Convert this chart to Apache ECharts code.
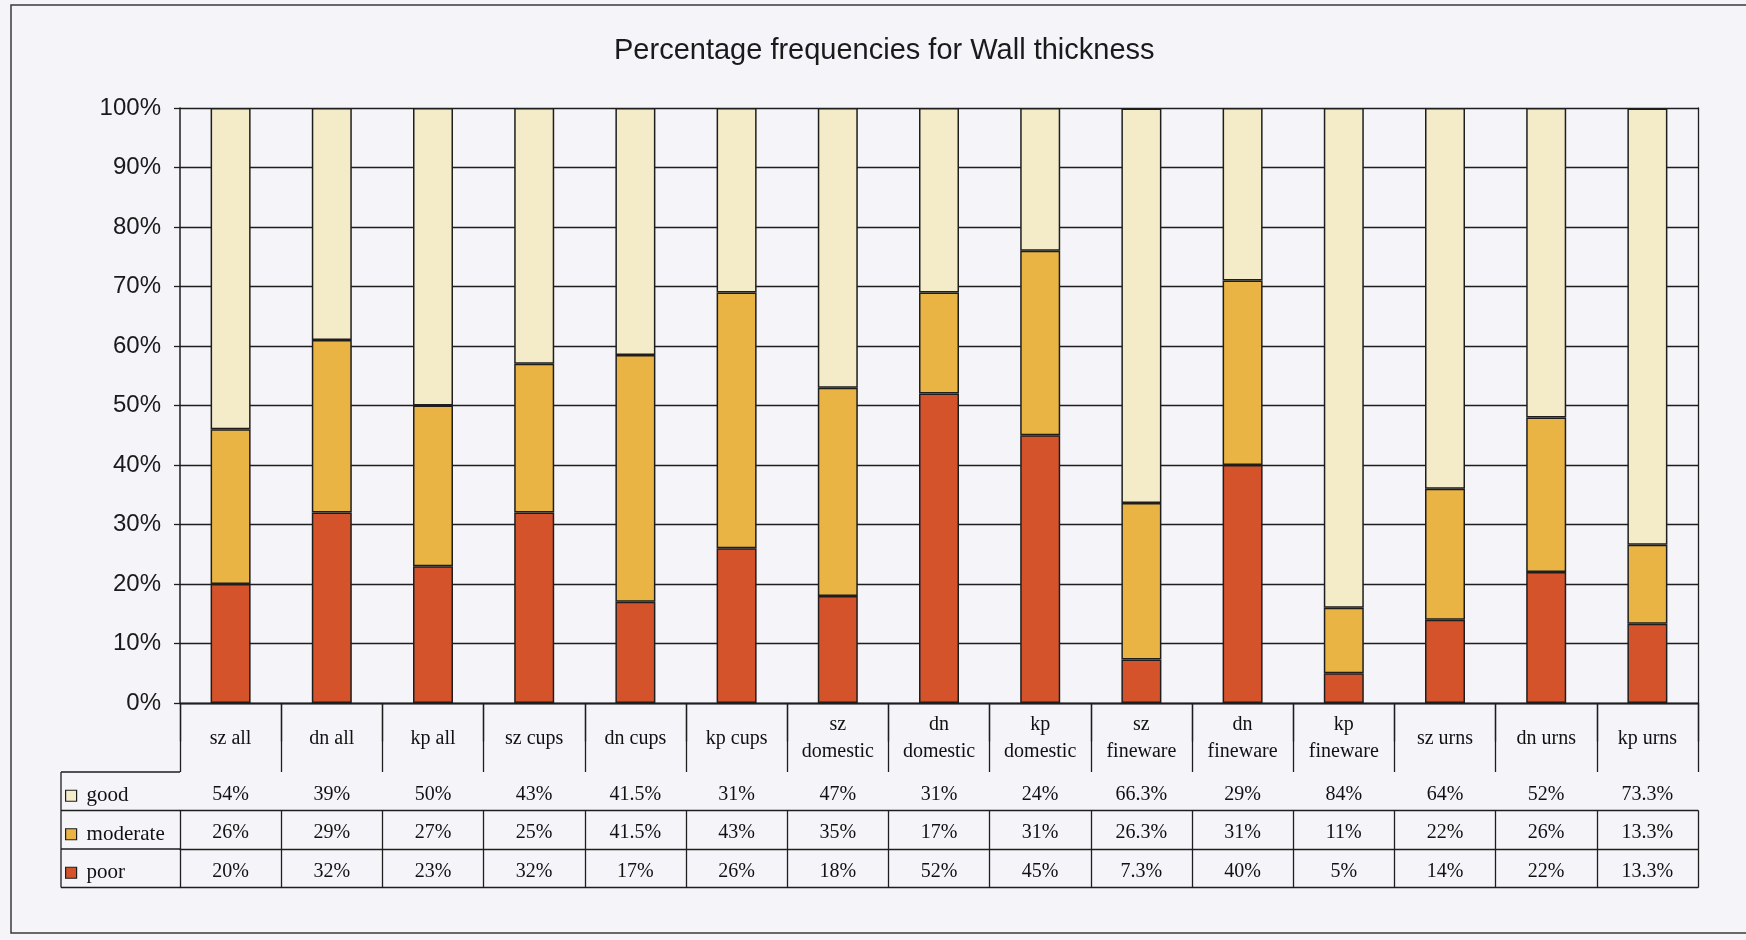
<!DOCTYPE html>
<html>
<head>
<meta charset="utf-8">
<title>Percentage frequencies for Wall thickness</title>
<script src="https://cdn.jsdelivr.net/npm/echarts@6/dist/echarts.min.js"></script>
<style>
  html, body { margin: 0; padding: 0; background: #f4f4f9; }
  #chart { width: 1746px; height: 940px; }
</style>
</head>
<body>
<div id="chart"></div>
<script>
// Wall thickness ratings per site and ware type (percent of sherds)
const categories = [
  'sz all', 'dn all', 'kp all', 'sz cups', 'dn cups', 'kp cups',
  'sz\ndomestic', 'dn\ndomestic', 'kp\ndomestic',
  'sz\nfineware', 'dn\nfineware', 'kp\nfineware',
  'sz urns', 'dn urns', 'kp urns'
];
const goodVals     = [54, 39, 50, 43, 41.5, 31, 47, 31, 24, 66.3, 29, 84, 64, 52, 73.3];
const moderateVals = [26, 29, 27, 25, 41.5, 43, 35, 17, 31, 26.3, 31, 11, 22, 26, 13.3];
const poorVals     = [20, 32, 23, 32, 17, 26, 18, 52, 45, 7.3, 40, 5, 14, 22, 13.3];
const yTicks = [0, 10, 20, 30, 40, 50, 60, 70, 80, 90, 100];

const colors = { good: '#f4ebc9', moderate: '#e9b444', poor: '#d5532b' };
const ink = '#1e1e1e';
const serif = '"Liberation Serif", "DejaVu Serif", serif';
const sans = '"Liberation Sans", Arial, sans-serif';

// layout of the plot and the data table beneath it
const G = { left: 180, right: 48, top: 108, bottom: 237 };
const headerH = 69;
const rowH = 38.5;
const tableLeft = 61;
const axisY = 940 - G.bottom;

const chart = echarts.init(document.getElementById('chart'), null, { renderer: 'canvas' });

function pct(v) { return v + '%'; }

// one category axis per table row; its ticks draw the cell borders
function tableAxis(labels, offset, height, showLabels) {
  return {
    type: 'category',
    position: 'bottom',
    offset: offset,
    data: labels,
    boundaryGap: true,
    axisLine: { show: true, lineStyle: { color: ink, width: 1.3 } },
    axisTick: { show: height > 0, length: height, interval: 0, alignWithLabel: false,
                lineStyle: { color: ink, width: 1.3 } },
    axisLabel: {
      show: showLabels, interval: 0, margin: height / 2 + (height < 50 ? 3 : 1),
      verticalAlign: 'middle', fontFamily: serif, fontSize: 20,
      color: '#111', lineHeight: 27
    },
    splitLine: { show: false }
  };
}

const xAxes = [
  tableAxis(categories, 0, headerH, true),
  tableAxis(goodVals.map(pct), headerH, rowH, true),
  tableAxis(moderateVals.map(pct), headerH + rowH, rowH, true),
  tableAxis(poorVals.map(pct), headerH + 2 * rowH, rowH, true),
  tableAxis(categories, headerH + 3 * rowH, 0, false)
];

function legendCell(name, row) {
  return {
    data: [name],
    left: tableLeft - 1,
    top: axisY + headerH + rowH * row + rowH / 2 - 11,
    orient: 'horizontal',
    icon: 'rect',
    itemWidth: 11,
    itemHeight: 11,
    itemGap: 4,
    selectedMode: false,
    itemStyle: { borderColor: ink, borderWidth: 1.2 },
    textStyle: { fontFamily: serif, fontSize: 21, color: '#111', padding: [0, 0, 0, 5] }
  };
}

// borders of the legend column at the left of the table
const legendLines = [];
for (let i = 0; i <= 3; i++) {
  const y = axisY + headerH + rowH * i;
  legendLines.push({ type: 'line', shape: { x1: tableLeft, y1: y, x2: G.left, y2: y },
                     style: { stroke: ink, lineWidth: 1.3 } });
}
legendLines.push({ type: 'line',
  shape: { x1: tableLeft, y1: axisY + headerH, x2: tableLeft, y2: axisY + headerH + 3 * rowH },
  style: { stroke: ink, lineWidth: 1.3 } });

function barSeries(name, values) {
  return {
    name: name,
    type: 'bar',
    stack: 'total',
    barWidth: 40,
    data: values,
    itemStyle: { color: colors[name], borderColor: ink, borderWidth: 1.5 },
    emphasis: { disabled: true }
  };
}

chart.setOption({
  backgroundColor: '#f4f4f9',
  animation: false,
  title: {
    text: 'Percentage frequencies for Wall thickness',
    left: 609,
    top: 31,
    textStyle: { fontFamily: sans, fontSize: 29, fontWeight: 'normal', color: '#1a1a1a' }
  },
  legend: [legendCell('good', 0), legendCell('moderate', 1), legendCell('poor', 2)],
  grid: G,
  xAxis: xAxes,
  yAxis: [
    {
      type: 'value', min: yTicks[0], max: yTicks[yTicks.length - 1], interval: 10,
      axisLine: { show: true, lineStyle: { color: ink, width: 1.5 } },
      axisTick: { show: true, length: 6, lineStyle: { color: ink, width: 1.3 } },
      axisLabel: { formatter: '{value}%', margin: 19, fontFamily: sans, fontSize: 24, color: '#1a1a1a' },
      splitLine: { show: true, lineStyle: { color: ink, width: 1.3 } }
    },
    {
      type: 'value', position: 'right', min: 0, max: 100,
      axisLine: { show: true, lineStyle: { color: ink, width: 1.3 } },
      axisTick: { show: false }, axisLabel: { show: false }, splitLine: { show: false }
    }
  ],
  graphic: [
    { type: 'rect', silent: true, z: -1,
      shape: { x: 11, y: 5, width: 1760, height: 928 },
      style: { fill: 'none', stroke: '#3a3a3a', lineWidth: 1.5 } }
  ].concat(legendLines),
  series: [
    barSeries('poor', poorVals),
    barSeries('moderate', moderateVals),
    barSeries('good', goodVals)
  ]
});
</script>
</body>
</html>
